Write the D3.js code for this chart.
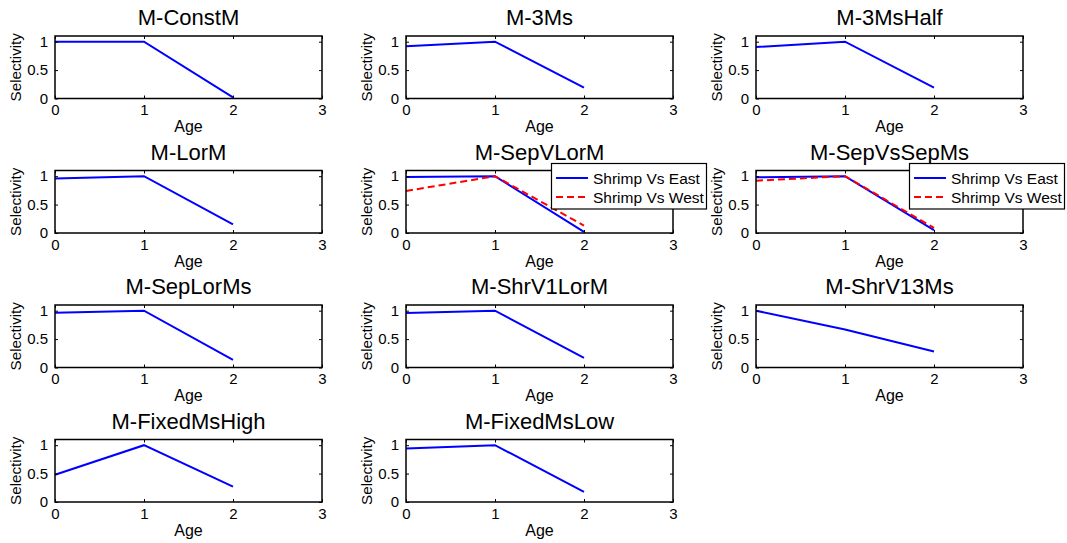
<!DOCTYPE html>
<html>
<head>
<meta charset="utf-8">
<script src="https://cdn.jsdelivr.net/npm/d3@7"></script>
<style>
  html, body { margin: 0; padding: 0; background: #fff; }
  svg { display: block; font-family: "Liberation Sans", Arial, sans-serif; }
</style>
</head>
<body>
<svg id="chart" width="1067" height="543"></svg>
<script>
// Selectivity at age for each model run
const ages = [0, 1, 2];
const modelTitles = [
  "M-ConstM", "M-3Ms", "M-3MsHalf",
  "M-LorM", "M-SepVLorM", "M-SepVsSepMs",
  "M-SepLorMs", "M-ShrV1LorM", "M-ShrV13Ms",
  "M-FixedMsHigh", "M-FixedMsLow"
];
// Shrimp vs East (or single series) selectivity per model
const eastSelectivity = [
  [1.00, 1.00, 0.02],
  [0.92, 1.00, 0.19],
  [0.905, 1.00, 0.19],
  [0.96, 1.00, 0.15],
  [0.985, 1.00, 0.02],
  [0.98, 1.00, 0.05],
  [0.965, 1.00, 0.135],
  [0.96, 1.00, 0.17],
  [1.00, 0.67, 0.28],
  [0.48, 1.00, 0.27],
  [0.94, 1.00, 0.18]
];
// Shrimp vs West selectivity, only for the split models
const westSelectivity = [
  null, null, null,
  null, [0.74, 1.00, 0.13], [0.92, 1.00, 0.09],
  null, null, null,
  null, null
];
const legendLabels = ["Shrimp Vs East", "Shrimp Vs West"];
const xTicks = [0, 1, 2, 3];
const yTicks = [0, 0.5, 1];
const xTickLabels = ["0", "1", "2", "3"];
const yTickLabels = ["0", "0.5", "1"];

// layout of the 4x3 grid of axes
const colLeft = [55, 406, 756];
const rowTop = [36, 170.5, 305, 439.5];
const axW = 267, axH = 62.5;
const legendOffsetX = [null, null, null, null, 145.5, 153.5];

const svg = d3.select("#chart");

modelTitles.forEach((title, i) => {
  const r = Math.floor(i / 3), c = i % 3;
  const x0 = colLeft[c], y0 = rowTop[r];
  const x = d3.scaleLinear().domain([0, 3]).range([0, axW]);
  const y = d3.scaleLinear().domain([0, 1.1]).range([axH, 0]);
  const g = svg.append("g").attr("transform", `translate(${x0},${y0})`);

  // title
  g.append("text")
    .attr("x", axW / 2).attr("y", -11)
    .attr("text-anchor", "middle")
    .style("font-size", "22px").attr("fill", "#000")
    .text(title);

  // data lines
  const line = d3.line().x((d, k) => x(ages[k])).y(d => y(d));
  g.append("path").datum(eastSelectivity[i])
    .attr("d", line).attr("fill", "none")
    .attr("stroke", "#0000ff").attr("stroke-width", 2);
  if (westSelectivity[i]) {
    g.append("path").datum(westSelectivity[i])
      .attr("d", line).attr("fill", "none")
      .attr("stroke", "#ff0000").attr("stroke-width", 2)
      .attr("stroke-dasharray", "7,4");
  }

  // axes with inward ticks on all four sides
  const tickLen = 3;
  const xAxisB = d3.axisBottom(x).tickValues(xTicks).tickSize(-tickLen).tickFormat((d, k) => xTickLabels[k]).tickPadding(6);
  const xAxisT = d3.axisTop(x).tickValues(xTicks).tickSize(-tickLen).tickFormat("");
  const yAxisL = d3.axisLeft(y).tickValues(yTicks).tickSize(-tickLen).tickFormat((d, k) => yTickLabels[k]).tickPadding(7);
  const yAxisR = d3.axisRight(y).tickValues(yTicks).tickSize(-tickLen).tickFormat("");

  const styleAxis = sel => {
    sel.select(".domain").remove();
    sel.selectAll(".tick line").attr("stroke", "#000").attr("stroke-width", 1);
    sel.selectAll(".tick text").attr("fill", "#000").style("font-size", "15px").style("font-family", "Liberation Sans, Arial, sans-serif");
  };
  g.append("g").attr("transform", `translate(0,${axH})`).call(xAxisB).call(styleAxis)
    .selectAll(".tick text").attr("dy", "0.72em");
  g.append("g").call(xAxisT).call(styleAxis);
  g.append("g").call(yAxisL).call(styleAxis);
  g.append("g").attr("transform", `translate(${axW},0)`).call(yAxisR).call(styleAxis);

  // axes box
  g.append("rect").attr("x", 0).attr("y", 0).attr("width", axW).attr("height", axH)
    .attr("fill", "none").attr("stroke", "#000").attr("stroke-width", 1.5);

  // axis labels
  g.append("text")
    .attr("x", axW / 2).attr("y", axH + 33.5)
    .attr("text-anchor", "middle").style("font-size", "16px").attr("fill", "#000")
    .text("Age");
  g.append("text")
    .attr("transform", `translate(-34,${axH / 2}) rotate(-90)`)
    .attr("text-anchor", "middle").style("font-size", "15.2px").attr("fill", "#000")
    .text("Selectivity");

  // legend for the split models
  if (westSelectivity[i]) {
    const lg = g.append("g").attr("transform", `translate(${legendOffsetX[i]},-7)`);
    lg.append("rect").attr("width", 155).attr("height", 45.5)
      .attr("fill", "#fff").attr("stroke", "#000").attr("stroke-width", 1.2);
    const colors = ["#0000ff", "#ff0000"];
    const dashes = [null, "7,4"];
    legendLabels.forEach((lab, k) => {
      const ly = 14.5 + k * 19;
      lg.append("line").attr("x1", 4.5).attr("x2", 36.5).attr("y1", ly).attr("y2", ly)
        .attr("stroke", colors[k]).attr("stroke-width", 2)
        .attr("stroke-dasharray", dashes[k]);
      lg.append("text").attr("x", 41.5).attr("y", ly).attr("dy", "0.36em")
        .style("font-size", "15.5px").attr("fill", "#000").text(lab);
    });
  }
});
</script>
</body>
</html>
